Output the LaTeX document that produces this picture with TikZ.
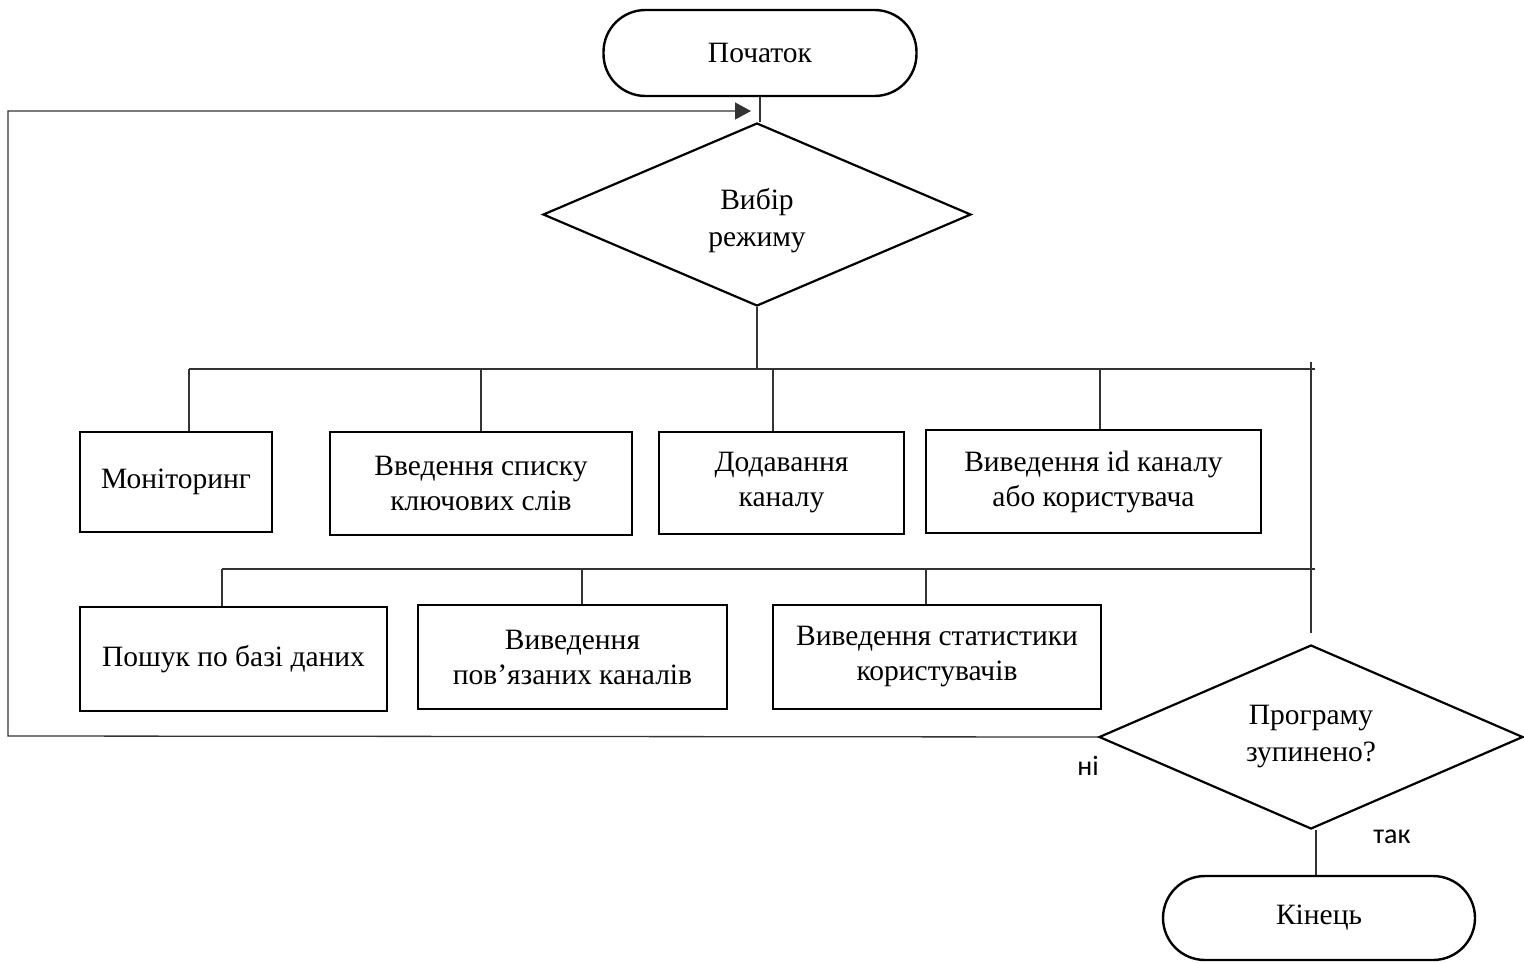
\documentclass[tikz,border=0pt]{standalone}
\usepackage{fontspec}
\setmainfont{Liberation Serif}
\newfontfamily\labfont{Carlito}
\usetikzlibrary{shapes.geometric,arrows.meta}
\begin{document}
\begin{tikzpicture}[x=1pt,y=-1pt,
  base/.style={draw=black,line width=2.4pt,align=center,inner sep=0pt,
    font=\fontsize{29.5}{35}\selectfont},
  term/.style={base,rectangle,rounded corners=42pt},
  procbox/.style={base,rectangle},
  decide/.style={base,diamond,line width=2.2pt,inner sep=-30pt,font=\fontsize{29.5}{37}\selectfont},
  conn/.style={draw=black!80,line width=1.3pt},
  lab/.style={font=\labfont\fontsize{28}{30}\selectfont,inner sep=0pt}]
\useasboundingbox (0,0) rectangle (1524,962);

\node[term,minimum width=313pt,minimum height=86pt] (start) at (760,53) {Початок};
\node[decide,minimum width=428pt,minimum height=183pt] (dia1) at (757,214.5) {\rule{0pt}{33pt}Вибір\\режиму};

\node[procbox,minimum width=192pt,minimum height=100pt] (b1) at (176,482) {Моніторинг};
\node[procbox,minimum width=302pt,minimum height=103pt] (b2) at (481,483.5) {Введення списку\\ключових слів};
\node[procbox,minimum width=245pt,minimum height=102pt] (b3) at (781.5,483) {Додавання\\каналу};
\node[procbox,minimum width=335pt,minimum height=103pt] (b4) at (1093.5,481.5) {Виведення id каналу\\або користувача};

\node[procbox,minimum width=307pt,minimum height=104pt] (b5) at (233.5,659) {Пошук по базі даних};
\node[procbox,minimum width=309pt,minimum height=104pt] (b6) at (572.5,657) {Виведення\\пов’язаних каналів};
\node[procbox,minimum width=328pt,minimum height=104pt] (b7) at (937,657) {Виведення статистики\\користувачів};

\node[decide,minimum width=424pt,minimum height=184pt] (dia2) at (1311,737) {Програму\\зупинено?};
\node[term,minimum width=312pt,minimum height=84pt] (end) at (1319,918) {Кінець};

\node[lab] (no) at (1088,766) {ні};
\node[lab] (yes) at (1392,837) {так};

% top connectors
\draw[conn] (start.south) -- (start.south |- dia1.north);
\coordinate (busL) at (189,369);
\coordinate (busR) at (1315,369);
\draw[conn] (dia1.south) -- (dia1.south |- busL);
\draw[conn] (busL) -- (busR);
\coordinate (d1) at (189,369);
\coordinate (d2) at (481,369);
\coordinate (d3) at (773,369);
\coordinate (d4) at (1100,369);
\draw[conn] (d1) -- (d1 |- b1.north);
\draw[conn] (d2) -- (d2 |- b2.north);
\draw[conn] (d3) -- (d3 |- b3.north);
\draw[conn] (d4) -- (d4 |- b4.north);

% second bus
\coordinate (bus2L) at (222,569);
\coordinate (bus2R) at (1315,569);
\draw[conn] (bus2L) -- (bus2R);
\coordinate (e5) at (222,569);
\coordinate (e6) at (582,569);
\coordinate (e7) at (926,569);
\draw[conn] (e5) -- (e5 |- b5.north);
\draw[conn] (e6) -- (e6 |- b6.north);
\draw[conn] (e7) -- (e7 |- b7.north);

% right vertical
\coordinate (rT) at (1311,362);
\coordinate (rB) at (1311,633);
\draw[conn] (rT) -- (rB);

% loop back
\coordinate (lB) at (8,736);
\coordinate (lT) at (8,111);
\coordinate (aT) at (751,111);
\draw[conn,-{Triangle[length=16pt,width=17pt]}] (dia2.west) -- (lB) -- (lT) -- (aT);

% to end
\draw[conn] ([xshift=5pt]dia2.south) -- ([xshift=5pt]dia2.south |- end.north);
\end{tikzpicture}
\end{document}
